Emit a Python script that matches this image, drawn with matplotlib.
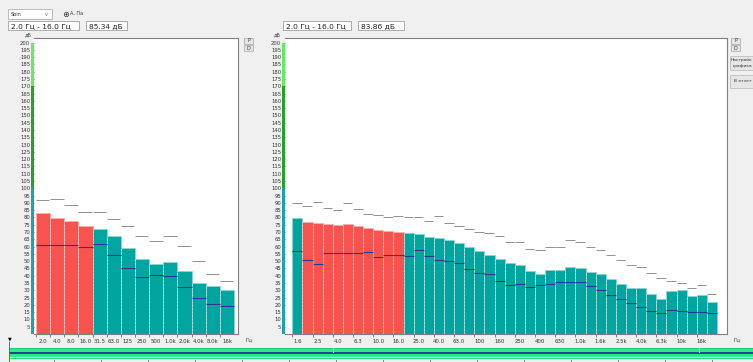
import numpy as np
import matplotlib
matplotlib.use("Agg")
import matplotlib.pyplot as plt
from matplotlib.patches import Rectangle

W, H = 753, 362

# octave spectrum (left)
oct_labels = ["2.0", "4.0", "8.0", "16.0", "31.5", "63.0", "125", "250", "500",
              "1.0k", "2.0k", "4.0k", "8.0k", "16k"]
oct_level = [82.8, 79.9, 77.3, 74.4, 71.9, 67.5, 59.3, 51.7, 48.0, 49.7, 43.2, 35.2, 33.2, 30.0]
oct_limit = [92.0, 92.4, 88.3, 84.0, 83.8, 78.7, 73.9, 67.0, 63.6, 67.0, 60.2, 50.1, 41.2, 36.4]
oct_back = [60.9, 60.9, 60.9, 59.5, 62.0, 54.0, 45.1, 38.9, 40.3, 39.6, 32.0, 24.5, 20.4, 19.5]
oct_red = [0, 1, 2, 3]

# third-octave spectrum (right)
third_bands = ["1.6", "2.0", "2.5", "3.15", "4.0", "5.0", "6.3", "8.0", "10.0", "12.5",
               "16.0", "20.0", "25.0", "31.5", "40.0", "50.0", "63.0", "80.0", "100", "125",
               "160", "200", "250", "315", "400", "500", "630", "800", "1.0k", "1.25k",
               "1.6k", "2.0k", "2.5k", "3.15k", "4.0k", "5.0k", "6.3k", "8.0k", "10k", "12.5k",
               "16k", "20k"]
third_ticklabels = ["1.6", "2.5", "4.0", "6.3", "10.0", "16.0", "25.0", "40.0", "63.0", "100",
                    "160", "250", "400", "630", "1.0k", "1.6k", "2.5k", "4.0k", "6.3k", "10k", "16k"]
third_level = [79.4, 76.9, 76.4, 75.5, 75.1, 75.3, 73.9, 72.5, 71.4, 70.7,
               69.8, 69.1, 68.4, 66.4, 66.1, 64.3, 62.5, 59.7, 57.0, 54.2,
               51.5, 48.7, 47.1, 43.2, 41.4, 43.7, 43.9, 45.8, 45.5, 42.8,
               41.2, 37.5, 34.1, 31.4, 31.8, 27.2, 23.8, 29.5, 30.4, 25.9,
               26.8, 21.7]
third_limit = [89.7, 88.1, 90.8, 86.5, 84.9, 90.2, 85.6, 82.6, 81.5, 80.1,
               80.8, 80.1, 80.1, 77.8, 80.8, 76.0, 73.9, 72.1, 69.8, 69.1,
               67.5, 62.9, 63.4, 58.1, 57.4, 60.0, 60.0, 64.3, 62.9, 59.5,
               57.4, 54.2, 50.6, 47.4, 45.8, 41.6, 38.2, 36.4, 34.8, 31.4,
               33.4, 27.5]
third_back = [56.8, 50.6, 47.8, 55.4, 55.4, 55.4, 55.4, 56.3, 53.1, 54.5,
              54.0, 53.3, 57.7, 53.3, 50.6, 50.3, 48.5, 44.4, 41.6, 41.0,
              36.2, 33.4, 34.3, 32.5, 33.9, 34.3, 35.9, 35.5, 35.5, 33.2,
              30.0, 27.0, 23.8, 21.3, 18.5, 15.6, 14.2, 16.2, 15.6, 14.9,
              14.9, 14.2]
third_red = list(range(1, 11))

# level indicator segments (dB): from, to
scale_segments = [(0, 100), (100, 170), (170, 200)]
scale_colors = ["#1aa3b5", "#1fa52a", "#5cf05c"]

RED = "#f95350"
TEAL = "#00a5a0"
BG = "#f0f0f0"


def px(x, y):
    return x / W, 1 - y / H


def box(fig, x0, y0, x1, y1, fc="white", ec="#a0a0a0", lw=0.6):
    fx, fy = px(x0, y1)
    fig.patches.append(Rectangle((fx, fy), (x1 - x0) / W, (y1 - y0) / H,
                                 transform=fig.transFigure, fc=fc, ec=ec, lw=lw))


def hline(fig, x0, x1, y, color, lw):
    fig.add_artist(plt.Line2D([x0 / W, x1 / W], [1 - y / H] * 2, transform=fig.transFigure,
                              color=color, lw=lw))


def vline(fig, x, y0, y1, color, lw):
    fig.add_artist(plt.Line2D([x / W] * 2, [1 - y0 / H, 1 - y1 / H], transform=fig.transFigure,
                              color=color, lw=lw))


def spectrum(fig, rect, level, limit, back, red, xlim, ticklabels, tickpos, tickmarks, unit_x):
    x0, y0, x1, y1 = rect
    fx, fy = px(x0, y1)
    ax = fig.add_axes([fx, fy, (x1 - x0) / W, (y1 - y0) / H])
    ax.set_facecolor("white")
    n = len(level)
    x = np.arange(n)
    colors = [RED if i in red else TEAL for i in range(n)]
    edges = ["#ffb0ae" if i in red else "#8fd6d2" for i in range(n)]
    ax.bar(x, level, width=1.0, color=colors, edgecolor=edges, linewidth=0.5)
    # dashed separators between bars
    for i in range(n - 1):
        ax.vlines(i + 0.5, 0, min(level[i], level[i + 1]), colors="white",
                  linestyles=(0, (3, 2)), linewidth=0.5, alpha=0.55)
    ax.hlines(limit, x - 0.5, x + 0.45, colors="#909090", linewidth=0.7)
    ax.hlines(back, x - 0.5, x + 0.5, colors="#1c3c96", linewidth=0.8)
    ax.set_xlim(*xlim)
    ax.set_ylim(0, 203.3)
    ax.set_yticks(np.arange(5, 201, 5))
    ax.tick_params(axis="y", labelsize=3.8, length=2, width=0.5, pad=0.8, colors="#333333")
    ax.set_xticks(tickpos)
    ax.set_xticklabels(ticklabels)
    ax.set_xticks(tickmarks, minor=True)
    ax.tick_params(axis="x", which="major", length=0, labelsize=3.9, pad=3.5, colors="#333333")
    ax.tick_params(axis="x", which="minor", length=2, width=0.5, color="#555555")
    for s in ["top", "right", "bottom"]:
        ax.spines[s].set_color("#808080")
        ax.spines[s].set_linewidth(0.8)
    ax.spines["left"].set_visible(False)
    # level indicator strip
    tr = ax.get_yaxis_transform()
    w_ax = 3.0 / (x1 - x0)
    for (a, b), c in zip(scale_segments, scale_colors):
        ax.add_patch(Rectangle((-w_ax, a), w_ax, b - a, transform=tr, fc=c, ec="none",
                               clip_on=False, zorder=5))
    ax.text(-0.01, 1.0, "дБ", transform=ax.transAxes, fontsize=3.6, ha="right",
            va="bottom", color="#333333")
    fig.text(*px(unit_x, 340), "Гц", fontsize=4, ha="left", va="center", color="#333333")
    return ax


fig = plt.figure(figsize=(W / 100, H / 100), dpi=100, facecolor=BG)

spectrum(fig, (34, 37.7, 238, 334), oct_level, oct_limit, oct_back, oct_red,
         (-0.64, 13.78), oct_labels, np.arange(14), np.arange(14) - 0.5, 246)

spectrum(fig, (285, 37.7, 727, 334), third_level, third_limit, third_back, third_red,
         (-1.22, 42.49), third_ticklabels, np.arange(0, 42, 2), np.arange(0, 42, 2) - 0.5, 733)

# top controls
box(fig, 8, 9, 52, 19, ec="#b0b0b0")
fig.text(*px(11, 14), "Sbin", fontsize=3.5, va="center", color="#333333")
fig.text(*px(45, 14), "v", fontsize=3.5, va="center", color="#777777")
fig.add_artist(plt.Line2D([66 / W], [1 - 13.5 / H], transform=fig.transFigure, marker="o",
                          markersize=3.2, mfc="white", mec="#333333", mew=0.5, ls="none"))
fig.add_artist(plt.Line2D([66 / W], [1 - 13.5 / H], transform=fig.transFigure, marker="o",
                          markersize=1.5, mfc="#222222", mec="none", ls="none"))
fig.text(*px(69.5, 13.5), "A, Па", fontsize=3.5, va="center", color="#333333")

box(fig, 8, 21, 79, 30)
fig.text(*px(11, 25.7), "2.0 Гц - 16.0 Гц", fontsize=5.4, va="center", color="#222222")
box(fig, 86, 21, 127, 30)
fig.text(*px(89, 25.7), "85.34 дБ", fontsize=5.4, va="center", color="#222222")

box(fig, 283, 21, 351, 30)
fig.text(*px(286, 25.7), "2.0 Гц - 16.0 Гц", fontsize=5.4, va="center", color="#222222")
box(fig, 358, 21, 404, 30)
fig.text(*px(361, 25.7), "83.86 дБ", fontsize=5.4, va="center", color="#222222")

for bx in (244, 731):
    box(fig, bx, 37.5, bx + 9, 43.5, fc="#e6e6e6", ec="#b0b0b0")
    fig.text(*px(bx + 4.5, 40.5), "P", fontsize=3.5, ha="center", va="center", color="#333333")
    box(fig, bx, 45, bx + 9, 51, fc="#e6e6e6", ec="#b0b0b0")
    fig.text(*px(bx + 4.5, 48), "D", fontsize=3.5, ha="center", va="center", color="#333333")

box(fig, 730, 56, 756, 70, fc="#e6e6e6", ec="#c0c0c0")
fig.text(*px(731, 60), "Настройк", fontsize=3.2, va="center", color="#333333")
fig.text(*px(733, 65.5), "графика", fontsize=3.2, va="center", color="#333333")
box(fig, 730, 75, 756, 88, fc="#e6e6e6", ec="#c0c0c0")
fig.text(*px(734, 81.5), "В отчет", fontsize=3.2, va="center", color="#333333")

# bottom timeline band
box(fig, 10, 347.5, 755, 356.5, fc="#2ee985", ec="none")
hline(fig, 10, W, 353, "#1818a0", 1.1)
hline(fig, 10, W, 347.8, "#20c070", 0.5)
hline(fig, 10, W, 358.2, "#30d080", 0.8)
vline(fig, 9.3, 342, H, "#555555", 0.6)
for yx in (333, 699):
    vline(fig, yx, 348, 352, "#e8e020", 0.8)
for tx in np.arange(54, 753, 47):
    vline(fig, tx, 359.5, H, "#555555", 0.5)
fig.text(*px(10, 339), "▼", fontsize=3.5, ha="center", va="center", color="black")

fig.savefig("out.png", dpi=100, facecolor=BG)
